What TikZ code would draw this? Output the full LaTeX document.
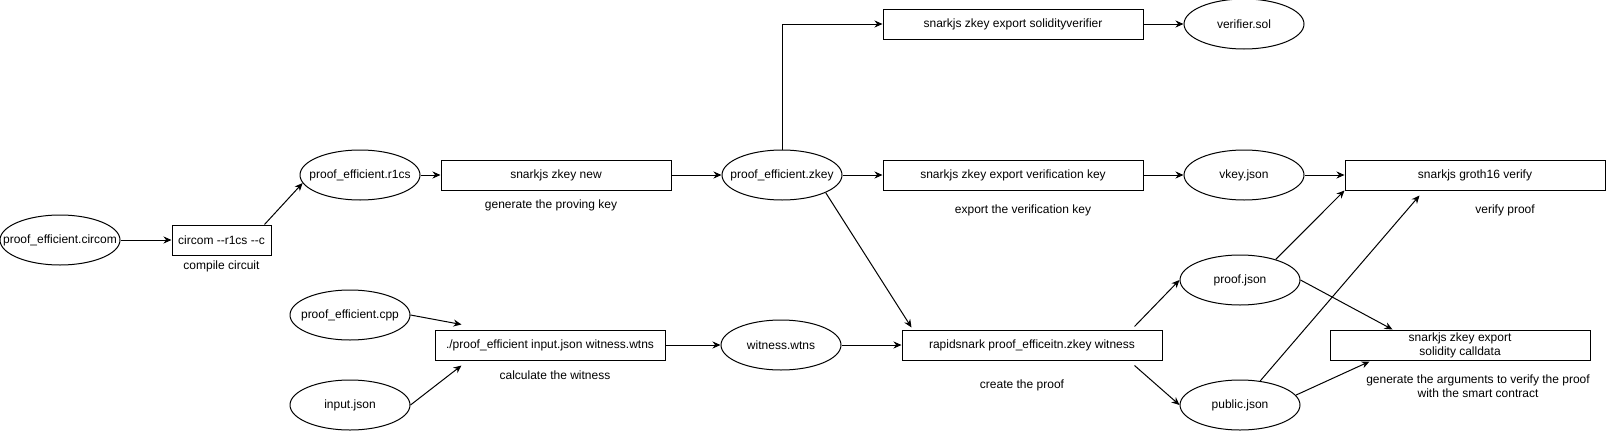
\documentclass[tikz,border=0pt]{standalone}
\usepackage{fontspec}
\setmainfont{Liberation Sans}
\usetikzlibrary{arrows.meta,positioning,shapes.geometric}

\begin{document}
\begin{tikzpicture}[x=1pt, y=-1pt, node distance=40pt, every node/.style={font=\fontsize{12}{14}\selectfont}, file/.style={ellipse, draw=black, line width=1pt, minimum width=120pt, minimum height=50pt, inner xsep=-25pt, inner ysep=0pt}, box/.style={rectangle, draw=black, line width=1pt, align=center, minimum width=260pt, minimum height=30pt, inner sep=0pt}, note/.style={align=center, inner sep=0pt}, arrow/.style={-{Stealth[length=8pt, width=7pt]}, line width=1pt}]
\useasboundingbox (0,0) rectangle (1606,431);
\node[file] (circ) at (60,240) {proof\_efficient.circom};
\node[box, minimum width=99pt, right=51pt of circ] (compile) {circom -{}-r1cs -{}-c};
\node[file] (r1cs) at (360,175) {proof\_efficient.r1cs};
\node[box, minimum width=230pt, right=20pt of r1cs] (zkeynew) {snarkjs zkey new};
\node[file, right=50pt of zkeynew] (zkey) {proof\_efficient.zkey};
\node[box, right=of zkey] (vk) {snarkjs zkey export verification key};
\node[file, right=of vk] (vkey) {vkey.json};
\node[box, right=of vkey] (verify) {snarkjs groth16 verify};
\node[box, above=120pt of vk] (sol) {snarkjs zkey export solidityverifier};
\node[file, right=of sol] (versol) {verifier.sol};
\node[box, minimum width=230pt] (witcalc) at (550,345) {./proof\_efficient input.json witness.wtns};
\node[file, right=55pt of witcalc] (wtns) {witness.wtns};
\node[box, right=60pt of wtns] (prove) {rapidsnark proof\_efficeitn.zkey witness};
\node[file] (cpp) at (350,315) {proof\_efficient.cpp};
\node[file] (input) at (350,405) {input.json};
\node[file] (proof) at (1240,280) {proof.json};
\node[file] (public) at (1240,405) {public.json};
\node[box] (calldata) at (1460,345) {snarkjs zkey export\\solidity calldata};
\node[note] (compilelbl) at ([yshift=-11pt]compile.south) {compile circuit};
\node[note] (zkeylbl) at ([shift={(-5pt,-15pt)}]zkeynew.south) {generate the proving key};
\node[note] (vklbl) at ([shift={(10pt,-20pt)}]vk.south) {export the verification key};
\node[note] (verifylbl) at ([shift={(30pt,-20pt)}]verify.south) {verify proof};
\node[note] (witlbl) at ([shift={(5pt,-15pt)}]witcalc.south) {calculate the witness};
\node[note] (provelbl) at ([shift={(-10pt,-25pt)}]prove.south) {create the proof};
\node[note] (calldatalbl) at ([shift={(18pt,-26pt)}]calldata.south) {generate the arguments to verify the proof\\with the smart contract};
\draw[arrow] (circ) -- (compile);
\draw[arrow] ([xshift=-7pt]compile.north east) -- (r1cs.188);
\draw[arrow] (r1cs) -- (zkeynew);
\draw[arrow] (zkeynew) -- (zkey);
\draw[arrow] (zkey) -- (vk);
\draw[arrow] (vk) -- (vkey);
\draw[arrow] (vkey) -- (verify);
\draw[arrow] (zkey.north) |- (sol.west);
\draw[arrow] (sol) -- (versol);
\draw[arrow] (zkey.-22) -- ([shift={(10pt,2pt)}]prove.north west);
\draw[arrow] (cpp.east) -- ([shift={(27pt,5pt)}]witcalc.north west);
\draw[arrow] (input.east) -- ([shift={(27pt,-5pt)}]witcalc.south west);
\draw[arrow] (witcalc) -- (wtns);
\draw[arrow] (wtns) -- (prove);
\draw[arrow] ([shift={(-28pt,3pt)}]prove.north east) -- (proof.west);
\draw[arrow] ([shift={(-28pt,-5pt)}]prove.south east) -- (public.west);
\draw[arrow] (proof.30) -- (verify.south west);
\draw[arrow] (proof.east) -- ([xshift=63pt]calldata.north west);
\draw[arrow] (public.50) -- ([shift={(75pt,-5pt)}]verify.south west);
\draw[arrow] (public.10) -- ([shift={(40pt,-1pt)}]calldata.south west);
\end{tikzpicture}
\end{document}
